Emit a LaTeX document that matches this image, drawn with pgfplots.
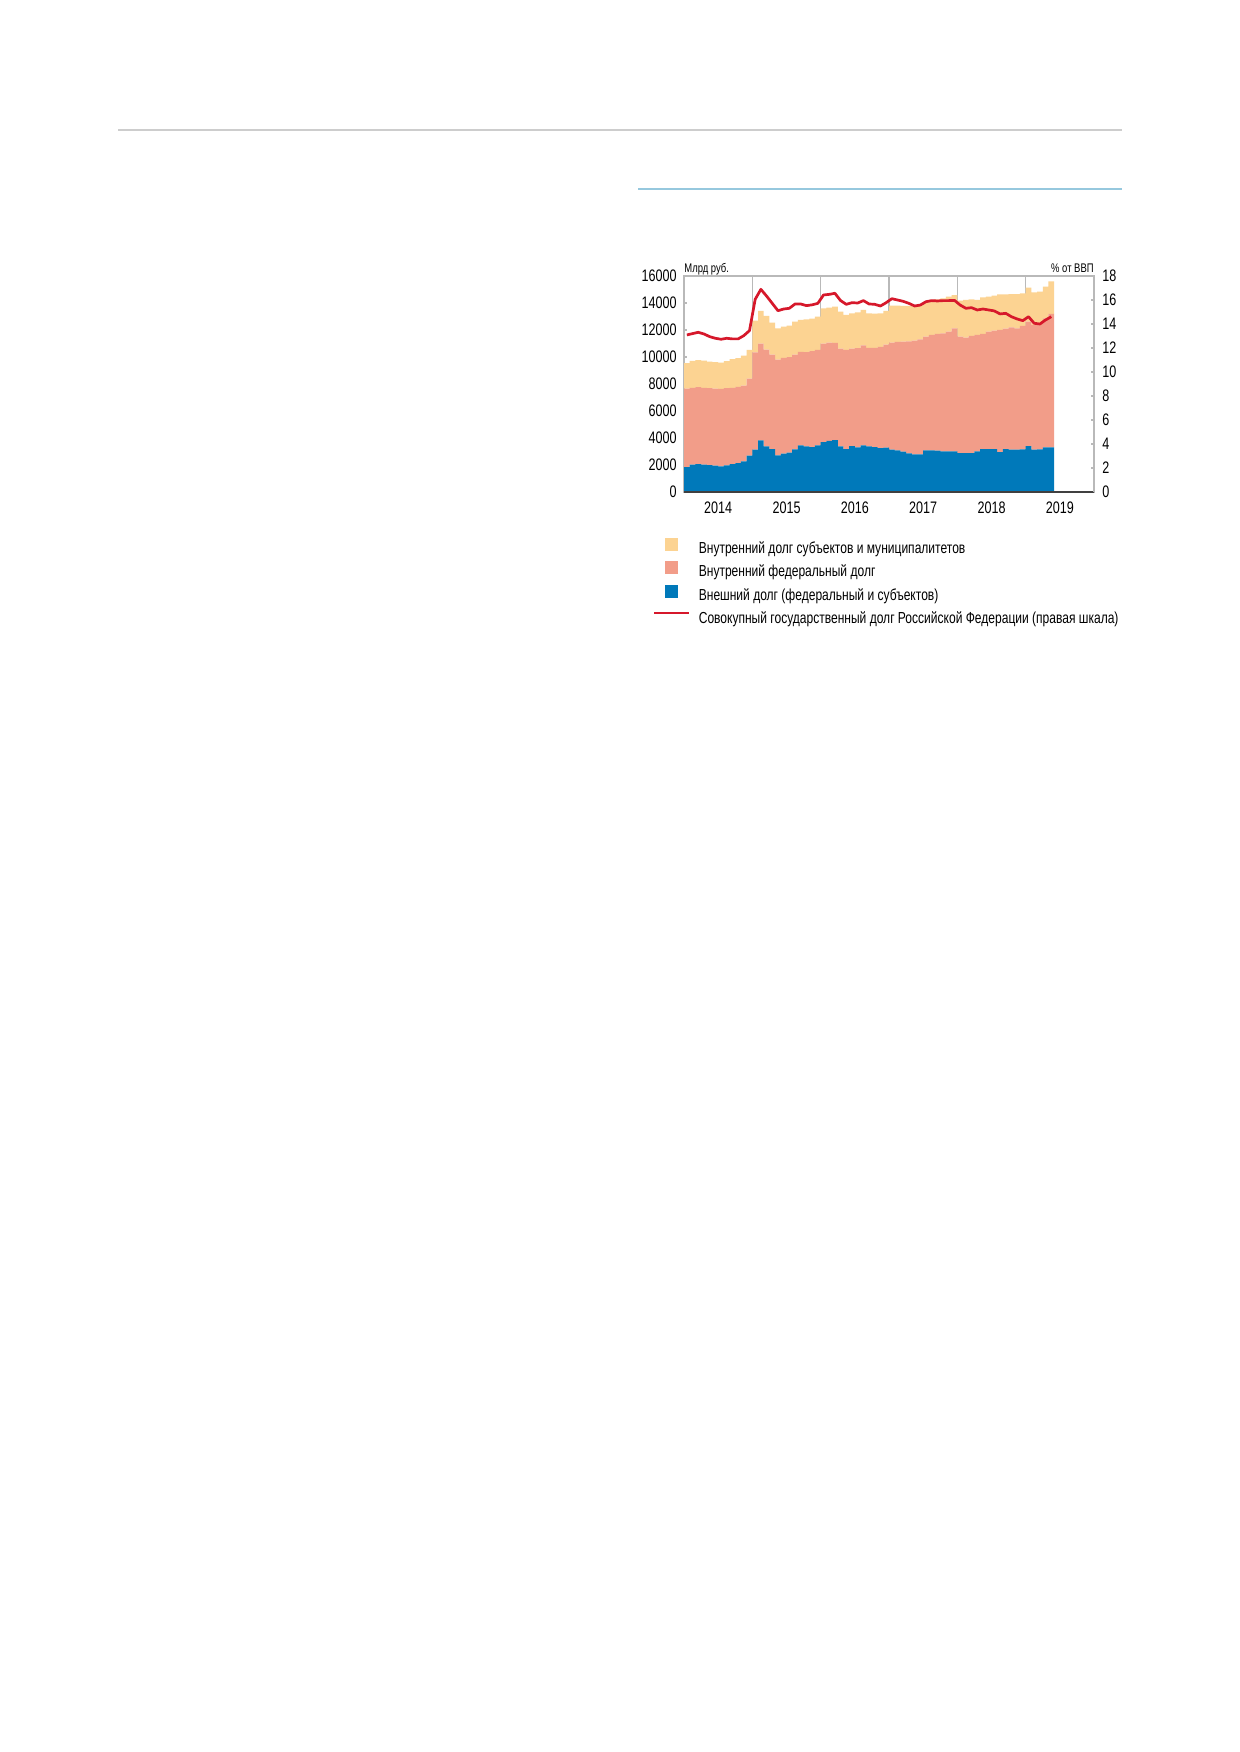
\documentclass[border=0pt]{standalone}
\usepackage{fontspec}
\setmainfont{Liberation Sans}[FakeStretch=0.755]
\usepackage{pgfplots}
\pgfplotsset{compat=1.18}
\usepackage{pgfplotstable}

\definecolor{yellowc}{RGB}{252,211,146}
\definecolor{salmonc}{RGB}{242,157,137}
\definecolor{bluec}{RGB}{0,121,186}
\definecolor{redc}{RGB}{214,24,43}
\definecolor{gridc}{RGB}{185,185,185}
\definecolor{toplinec}{RGB}{205,205,205}
\definecolor{bluelinec}{RGB}{150,200,222}

\newcommand\lent[1]{\smash{#1}\rule[-1.6pt]{0pt}{7.4pt}}

\pgfplotstableread{
i ext fed reg gdp
0 1849 5817 1874 13.09
1 2021 5694 1997 13.20
2 2071 5694 1996 13.31
3 2021 5694 2022 13.17
4 1997 5694 1972 12.95
5 1947 5719 1947 12.81
6 1898 5744 1947 12.73
7 1972 5719 1996 12.81
8 2071 5644 2120 12.76
9 2145 5644 2120 12.76
10 2268 5620 2219 13.03
11 2687 5719 2120 13.45
12 3131 7219 2345 16.06
13 3821 7173 2416 16.89
14 3377 7173 2490 16.33
15 3180 7000 2367 15.72
16 2712 7099 2317 15.11
17 2835 7099 2317 15.25
18 2909 7074 2342 15.31
19 3155 7025 2441 15.67
20 3451 6927 2366 15.67
21 3377 6976 2441 15.53
22 3328 7099 2416 15.60
23 3451 7075 2465 15.72
24 3698 7296 2613 16.42
25 3796 7272 2588 16.47
26 3845 7198 2687 16.56
27 3377 7247 2737 15.95
28 3180 7346 2588 15.64
29 3402 7222 2613 15.78
30 3303 7346 2662 15.75
31 3451 7420 2613 15.95
32 3377 7296 2564 15.67
33 3328 7345 2539 15.64
34 3254 7493 2490 15.50
35 3279 7641 2490 15.78
36 3131 7937 2736 16.11
37 3081 8036 2687 16.00
38 2983 8159 2638 15.89
39 2859 8307 2614 15.72
40 2785 8431 2514 15.50
41 2785 8529 2589 15.58
42 3081 8431 2588 15.86
43 3081 8554 2588 15.95
44 3057 8652 2563 15.92
45 3007 8751 2588 15.95
46 3007 8874 2589 15.95
47 3007 9121 2465 15.97
48 2884 8628 2662 15.58
49 2884 8554 2785 15.31
50 2884 8677 2711 15.36
51 3007 8628 2588 15.17
52 3180 8529 2711 15.25
53 3180 8701 2589 15.17
54 3180 8775 2589 15.09
55 2958 9047 2637 14.84
56 3180 8923 2539 14.89
57 3131 9071 2465 14.61
58 3131 8997 2539 14.42
59 3155 9145 2416 14.28
60 3402 9218 2515 14.61
61 3131 9243 2416 14.06
62 3155 9293 2391 14.00
63 3303 9564 2342 14.34
64 3303 9885 2415 14.61
}\debt

\begin{document}
\begin{tikzpicture}
\useasboundingbox (0,0) rectangle (594.72pt,-840.96pt);
\fill[white] (0,0) rectangle (594.72pt,-840.96pt);
\draw[toplinec, line width=0.65pt] (56.64pt,-62.4pt) -- (538.56pt,-62.4pt);
\draw[bluelinec, line width=0.7pt] (306.24pt,-90.72pt) -- (538.56pt,-90.72pt);

\begin{axis}[
  at={(328.32pt,-236.16pt)}, anchor=south west,
  scale only axis, width=196.8pt, height=103.68pt,
  xmin=0, xmax=72, ymin=0, ymax=16000,
  enlargelimits=false, clip mode=individual,
  scaled y ticks=false, scaled x ticks=false,
  ybar stacked, bar width=1,
  axis line style={gridc, line width=0.5pt},
  xtick={6,18,30,42,54,66},
  xticklabels={2014,2015,2016,2017,2018,2019},
  xtick style={draw=none},
  minor xtick={12,24,36,48,60},
  xminorgrids=true,
  minor x tick style={draw=none},
  minor grid style={gridc, line width=0.5pt},
  ytick={0,2000,4000,6000,8000,10000,12000,14000,16000},
  yticklabels={0,2000,4000,6000,8000,10000,12000,14000,16000},
  ytick pos=left, xtick pos=bottom,
  tick align=inside, major tick length=1.3pt,
  ytick style={gridc, line width=0.5pt},
  /pgf/number format/assume math mode=true,
  yticklabel style={font=\fontsize{8}{9}\selectfont, inner sep=0pt, xshift=-3.4pt},
  xticklabel style={font=\fontsize{8}{9}\selectfont, inner sep=0pt, yshift=-4.4pt},
]
\addplot[fill=bluec, draw=none] table[x expr=\thisrow{i}+0.5, y=ext]{\debt};
\addplot[fill=salmonc, draw=none] table[x expr=\thisrow{i}+0.5, y=fed]{\debt};
\addplot[fill=yellowc, draw=none] table[x expr=\thisrow{i}+0.5, y=reg]{\debt};
\node[anchor=base west, inner sep=0pt, font=\fontsize{6}{7}\selectfont] at (rel axis cs:0,1) [yshift=1.6pt] {Млрд руб.};
\node[anchor=base east, inner sep=0pt, font=\fontsize{6}{7}\selectfont] at (rel axis cs:1,1) [yshift=1.6pt] {\% от ВВП};
\end{axis}

\begin{axis}[
  at={(328.32pt,-236.16pt)}, anchor=south west,
  scale only axis, width=196.8pt, height=103.68pt,
  xmin=0, xmax=72, ymin=0, ymax=18,
  enlargelimits=false,
  scaled y ticks=false,
  axis x line*=bottom, axis y line*=right,
  x axis line style={black!75, line width=0.6pt},
  y axis line style={gridc, line width=0.5pt},
  xtick=\empty,
  ytick={0,2,4,6,8,10,12,14,16,18},
  yticklabels={0,2,4,6,8,10,12,14,16,18},
  tick align=inside, major tick length=1.3pt,
  ytick style={gridc, line width=0.5pt},
  /pgf/number format/assume math mode=true,
  yticklabel style={font=\fontsize{8}{9}\selectfont, inner sep=0pt, xshift=3.8pt},
  legend style={at={(-0.0756,-0.205)}, anchor=north west, draw=none, fill=none,
    inner sep=0pt, row sep=1.8pt, column sep=4.3pt,
    nodes={inner sep=0pt},
    font=\fontsize{7.65}{9}\selectfont},
  legend cell align=left,
]
\addlegendimage{legend image code/.code={\path[draw=none,fill=none] (0pt,-1.6pt) rectangle (16.8pt,5.8pt); \fill[yellowc,draw=none] (5.28pt,-0.96pt) rectangle (11.52pt,5.28pt);}}
\addlegendentry{\lent{Внутренний долг субъектов и муниципалитетов}}
\addlegendimage{legend image code/.code={\path[draw=none,fill=none] (0pt,-1.6pt) rectangle (16.8pt,5.8pt); \fill[salmonc,draw=none] (5.28pt,-0.96pt) rectangle (11.52pt,5.28pt);}}
\addlegendentry{\lent{Внутренний федеральный долг}}
\addlegendimage{legend image code/.code={\path[draw=none,fill=none] (0pt,-1.6pt) rectangle (16.8pt,5.8pt); \fill[bluec,draw=none] (5.28pt,-0.96pt) rectangle (11.52pt,5.28pt);}}
\addlegendentry{\lent{Внешний долг (федеральный и субъектов)}}
\addlegendimage{legend image code/.code={\path[draw=none,fill=none] (0pt,-1.6pt) rectangle (16.8pt,5.8pt); \draw[redc, line width=0.7pt] (0pt,2.9pt) -- (16.8pt,2.9pt);}}
\addlegendentry{\lent{Совокупный государственный долг Российской Федерации (правая шкала)}}
\addplot[redc, line width=1.3pt, mark=none, line join=round, forget plot] table[x expr=\thisrow{i}+0.5, y=gdp]{\debt};
\end{axis}
\end{tikzpicture}
\end{document}
